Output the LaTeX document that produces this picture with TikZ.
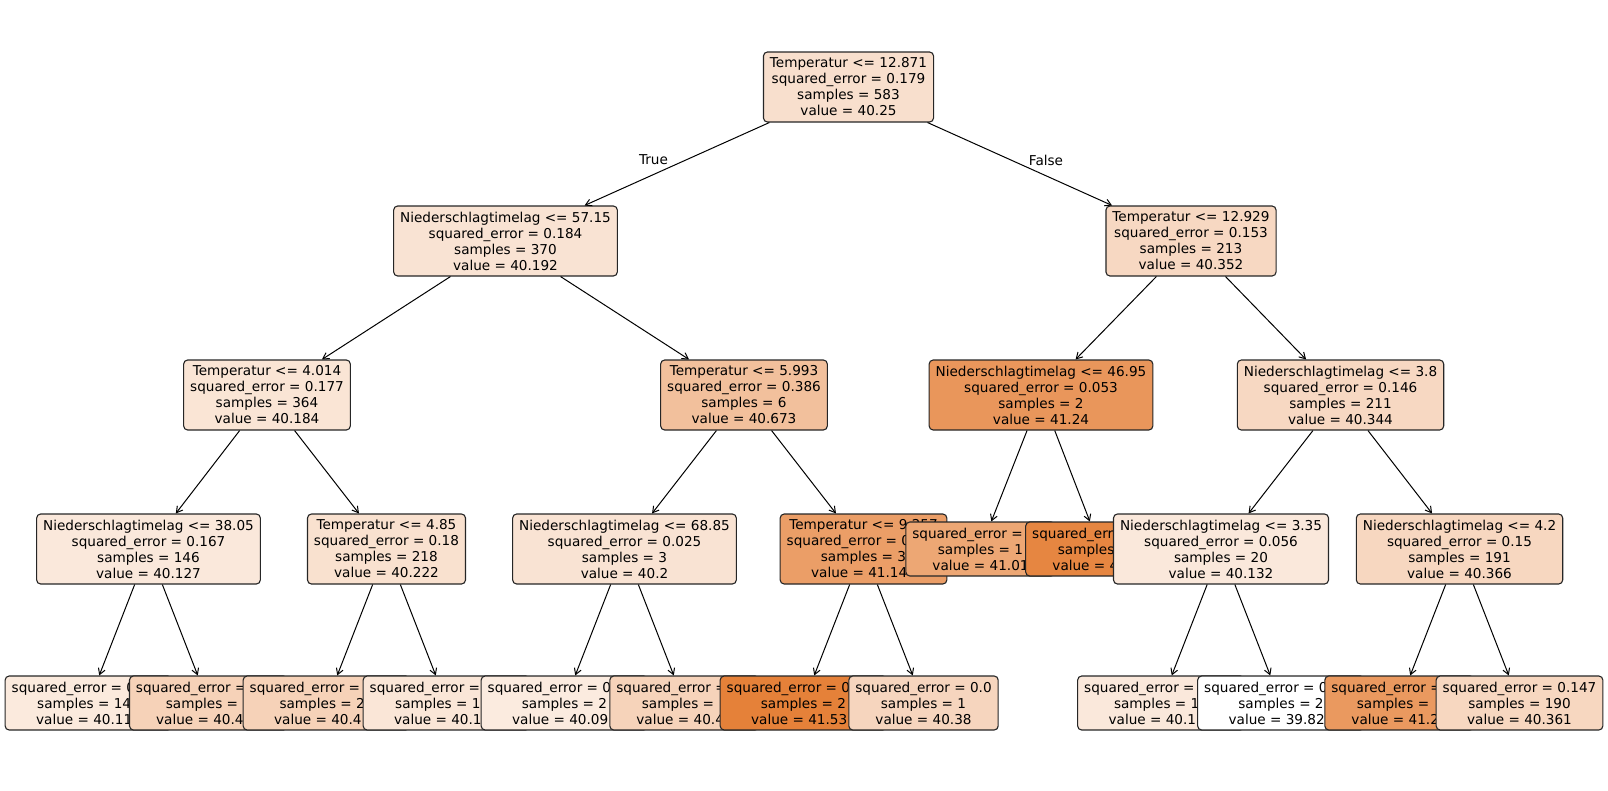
\documentclass[tikz,border=0pt]{standalone}
\usepackage{fontspec}
\setmainfont{DejaVu Sans}
\usetikzlibrary{arrows.meta}
\definecolor{skorange}{RGB}{229,129,57}
\tikzset{
  tnode/.style={draw=black!85, rounded corners=4pt, line width=1.1pt, align=center,
    inner xsep=6.5pt, inner ysep=2pt, minimum height=70pt, fill=skorange!#1!white},
  lnode/.style={tnode=#1, minimum height=54pt},
  arr/.style={line width=1pt, -{Straight Barb[length=6pt,width=7pt]}},
  txt/.style={font=\fontsize{13.6}{16}\selectfont}
}
\begin{document}
\begin{tikzpicture}[x=1pt,y=-1pt, every node/.append style={txt}]
\useasboundingbox (0,0) rectangle (1608,790);
% depth 0
\node[tnode=25] (root) at (848.5,87) {Temperatur <= 12.871\\squared\_error = 0.179\\samples = 583\\value = 40.25};
% left subtree
\node[tnode=22] (n1) at (505.5,241) {Niederschlagtimelag <= 57.15\\squared\_error = 0.184\\samples = 370\\value = 40.192};
\node[tnode=21] (n2) at (267,395) {Temperatur <= 4.014\\squared\_error = 0.177\\samples = 364\\value = 40.184};
\node[tnode=18] (n3) at (148.5,549) {Niederschlagtimelag <= 38.05\\squared\_error = 0.167\\samples = 146\\value = 40.127};
\node[lnode=17] (l1) at (88.5,703) {squared\_error = 0\phantom{.123}\\samples = 14\phantom{2}\\value = 40.11\phantom{2}};
\node[lnode=36] (l2) at (208.5,703) {squared\_error =\phantom{ 0.12}\\samples = \phantom{4}\\value = 40.4\phantom{56}};
\node[tnode=24] (n4) at (386.5,549) {Temperatur <= 4.85\\squared\_error = 0.18\\samples = 218\\value = 40.222};
\node[lnode=36] (l3) at (326.5,703) {squared\_error =\phantom{ 0.123}\\samples = 2\phantom{7}\\value = 40.4\phantom{56}};
\node[lnode=20] (l4) at (446.5,703) {squared\_error =\phantom{ 0.123}\\samples = 1\phantom{91}\\value = 40.1\phantom{89}};
\node[tnode=50] (n5) at (744,395) {Temperatur <= 5.993\\squared\_error = 0.386\\samples = 6\\value = 40.673};
\node[tnode=22] (n6) at (624.5,549) {Niederschlagtimelag <= 68.85\\squared\_error = 0.025\\samples = 3\\value = 40.2};
\node[lnode=16] (l5) at (564.5,703) {squared\_error = 0\phantom{.012}\\samples = 2\\value = 40.09\phantom{0}};
\node[lnode=35] (l6) at (684.5,703) {squared\_error =\phantom{ 0.0}\\samples = \phantom{1}\\value = 40.4\phantom{2}};
\node[tnode=77] (n7) at (863.5,549) {Temperatur <= 9.257\\squared\_error = 0\phantom{.271}\\samples = 3\\value = 41.14\phantom{6}};
\node[lnode=100] (l7) at (803.5,703) {squared\_error = 0\phantom{.012}\\samples = 2\\value = 41.53\phantom{3}};
\node[lnode=33] (l8) at (923.5,703) {squared\_error = 0.0\\samples = 1\\value = 40.38};
% right subtree
\node[tnode=31] (n8) at (1191,241) {Temperatur <= 12.929\\squared\_error = 0.153\\samples = 213\\value = 40.352};
\node[tnode=83] (n9) at (1041,395) {Niederschlagtimelag <= 46.95\\squared\_error = 0.053\\samples = 2\\value = 41.24};
\node[lnode=70] (l9) at (980.5,549) {squared\_error =\phantom{ 0.0}\\samples = 1\\value = 41.01};
\node[lnode=96] (l10) at (1100.5,549) {squared\_err\phantom{or = 0.0}\\samples\phantom{ = 1}\\value = 4\phantom{1.47}};
\node[tnode=31] (n10) at (1340.5,395) {Niederschlagtimelag <= 3.8\\squared\_error = 0.146\\samples = 211\\value = 40.344};
\node[tnode=18] (n11) at (1221,549) {Niederschlagtimelag <= 3.35\\squared\_error = 0.056\\samples = 20\\value = 40.132};
\node[lnode=18] (l11) at (1161,703) {squared\_error =\phantom{ 0.123}\\samples = 1\phantom{8}\\value = 40.1\phantom{66}};
\node[lnode=0] (l12) at (1281,703) {squared\_error = 0\phantom{.012}\\samples = 2\\value = 39.82\phantom{1}};
\node[tnode=32] (n12) at (1459.5,549) {Niederschlagtimelag <= 4.2\\squared\_error = 0.15\\samples = 191\\value = 40.366};
\node[lnode=81] (l13) at (1399.5,703) {squared\_error =\phantom{ 0.0}\\samples = \phantom{1}\\value = 41.2\phantom{5}};
\node[lnode=32] (l14) at (1519.5,703) {squared\_error = 0.147\\samples = 190\\value = 40.361};
% edge labels
\node (ltrue) at (653.5,160) {True};
\node (lfalse) at (1046,160) {False};
% edges
\draw[arr] (root) -- (n1);
\draw[arr] (root) -- (n8);
\draw[arr] (n1) -- (n2);
\draw[arr] (n1) -- (n5);
\draw[arr] (n2) -- (n3);
\draw[arr] (n2) -- (n4);
\draw[arr] (n3) -- (l1);
\draw[arr] (n3) -- (l2);
\draw[arr] (n4) -- (l3);
\draw[arr] (n4) -- (l4);
\draw[arr] (n5) -- (n6);
\draw[arr] (n5) -- (n7);
\draw[arr] (n6) -- (l5);
\draw[arr] (n6) -- (l6);
\draw[arr] (n7) -- (l7);
\draw[arr] (n7) -- (l8);
\draw[arr] (n8) -- (n9);
\draw[arr] (n8) -- (n10);
\draw[arr] (n9) -- (l9);
\draw[arr] (n9) -- (l10);
\draw[arr] (n10) -- (n11);
\draw[arr] (n10) -- (n12);
\draw[arr] (n11) -- (l11);
\draw[arr] (n11) -- (l12);
\draw[arr] (n12) -- (l13);
\draw[arr] (n12) -- (l14);
\end{tikzpicture}
\end{document}
